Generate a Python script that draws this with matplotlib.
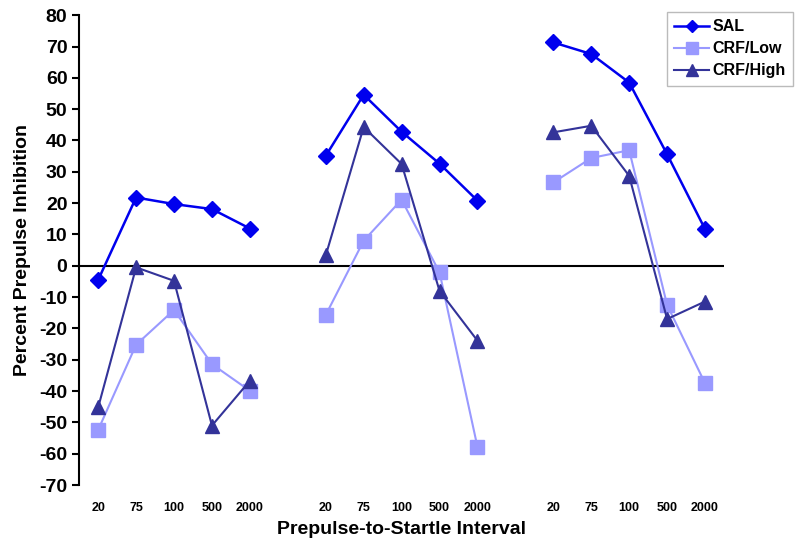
import numpy as np
import matplotlib
matplotlib.use("Agg")
import matplotlib.pyplot as plt

plt.rcParams["font.family"] = ["Liberation Sans", "DejaVu Sans"]
plt.rcParams["font.weight"] = "bold"
plt.rcParams["axes.labelweight"] = "bold"
plt.rcParams["axes.unicode_minus"] = False

# ── Data ──────────────────────────────────────────────────────────────────────
intervals = ["20", "75", "100", "500", "2000"]
n_groups = 3

sal = [[-4.5, 21.8, 19.7, 18.1, 11.9],
       [35.1, 54.6, 42.8, 32.6, 20.8],
       [71.3, 67.6, 58.5, 35.6, 11.7]]
crf_low = [[-52.4, -25.2, -14.1, -31.4, -39.9],
           [-15.7, 8.0, 21.1, -2.1, -57.8],
           [26.6, 34.4, 36.9, -12.5, -37.5]]
crf_high = [[-45.2, -0.5, -4.8, -51.0, -36.7],
            [3.3, 44.3, 32.5, -8.0, -23.9],
            [42.6, 44.7, 28.7, -17.0, -11.4]]

series = [
    ("SAL", sal, "#0000ee", "D", 8, 1.8),
    ("CRF/Low", crf_low, "#9999ff", "s", 10, 1.5),
    ("CRF/High", crf_high, "#333399", "^", 10, 1.5),
]

# one blank category between groups
step = len(intervals) + 1
xpos = [np.arange(len(intervals)) + g * step for g in range(n_groups)]

fig = plt.figure(figsize=(8, 5.42), dpi=100)
ax = fig.add_axes([0.099, 0.105, 0.806, 0.867])

handles = []
for name, vals, col, mk, ms, lw in series:
    for g in range(n_groups):
        h, = ax.plot(xpos[g], vals[g], color=col, marker=mk, markersize=ms,
                     lw=lw, markeredgecolor=col, label=name if g == 0 else None)
        if g == 0:
            handles.append(h)

ax.axhline(0, color="black", lw=1.5, zorder=0)
ax.set_xlim(-0.5, n_groups * step - 1.5)
ax.set_ylim(-70, 80)
ax.set_yticks(np.arange(-70, 81, 10))
ax.tick_params(axis="y", labelsize=14, length=5, width=1.5, direction="out")
for s in ("top", "right", "bottom"):
    ax.spines[s].set_visible(False)
ax.spines["left"].set_linewidth(1.5)

ticks = np.concatenate(xpos)
ax.set_xticks(ticks)
ax.set_xticklabels(intervals * n_groups, fontsize=9)
ax.tick_params(axis="x", length=0, pad=12)

ax.set_ylabel("Percent Prepulse Inhibition", fontsize=14, labelpad=6)
ax.set_xlabel("Prepulse-to-Startle Interval", fontsize=14, labelpad=5)

leg = fig.legend(handles=handles, loc="upper right",
                 bbox_to_anchor=(0.991, 0.978), borderaxespad=0,
                 fontsize=11.5, markerscale=0.8,
                 frameon=True, fancybox=False, edgecolor="#aaaaaa",
                 handlelength=2.2, handletextpad=0.2, borderpad=0.45,
                 labelspacing=0.45)
leg.get_frame().set_linewidth(1.0)

fig.savefig("out.png", dpi=100)
